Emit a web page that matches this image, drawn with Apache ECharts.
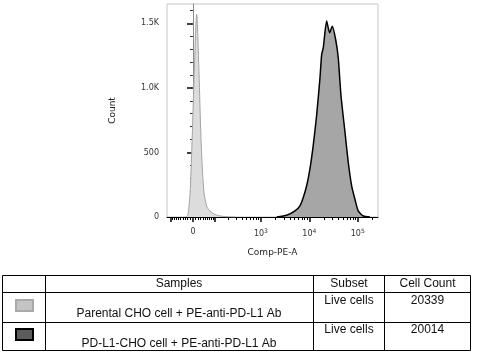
<!DOCTYPE html>
<html>
<head>
<meta charset="utf-8">
<script src="https://cdn.jsdelivr.net/npm/echarts@6/dist/echarts.min.js"></script>
<style>
  html, body { margin: 0; padding: 0; background: #fff; }
  #chart { width: 478px; height: 360px; }
</style>
</head>
<body>
<div id="chart"></div>
<script>
// histogram bins: [Comp-PE-A value, count]
const parentalHist = [
  [-27, 0], [-19, 20], [-15, 86], [-10, 219], [-3, 609], [5, 1127], [14, 1570],
  [23, 1127], [31, 609], [42, 219], [55, 86], [71, 47], [98, 20], [132, 8],
  [191, 2], [286, 0]
]
const pdl1Hist = [
  [2121, 0], [3407, 13], [5058, 47], [6415, 86], [7506, 151], [8820, 242],
  [10317, 373], [12062, 555], [14187, 789], [16605, 1076], [18000, 1258],
  [19420, 1310], [22815, 1518], [26316, 1427], [29800, 1477], [35011, 1375],
  [39650, 1232], [45000, 945], [54480, 659], [63720, 424], [74860, 242],
  [87550, 138], [102400, 47], [130100, 8], [178700, 0]
]

const xMajorTicks = [-100, 0, 100, 1e3, 1e4, 1e5]
const xLabelValues = [0, 1e3, 1e4, 1e5]
const xLabelText = ['0', '10{s|3}', '10{s|4}', '10{s|5}']
const xMinorTicks = [
  -90, -80, -70, -60, -50, -40, -30, -20, -10,
  10, 20, 30, 40, 50, 60, 70, 80, 90,
  200, 300, 400, 500, 600, 700, 800, 900,
  2000, 3000, 4000, 5000, 6000, 7000, 8000, 9000,
  20000, 30000, 40000, 50000, 60000, 70000, 80000, 90000, 200000
]
const yMajorTicks = [0, 500, 1000, 1500]
const yMinorTicks = [100, 200, 300, 400, 600, 700, 800, 900, 1100, 1200, 1300, 1400, 1600]

const samples = ['Parental CHO cell + PE-anti-PD-L1 Ab', 'PD-L1-CHO cell + PE-anti-PD-L1 Ab']
const subsets = ['Live cells', 'Live cells']
const cellCounts = ['20339', '20014']

// biexponential-like display transform (arcsinh)
const C = 79.3
const T = (v) => Math.asinh(v / C) / Math.LN10
const X_MIN = -0.536
const X_MAX = T(262143)

const chart = echarts.init(document.getElementById('chart'))

const axisFont = { fontFamily: 'DejaVu Sans', fontSize: 8, color: '#333' }

const xBase = { type: 'value', min: X_MIN, max: X_MAX, position: 'bottom', splitLine: { show: false } }
const yBase = { type: 'value', min: 0, max: 1650, position: 'left', splitLine: { show: false } }

// table drawing
const tableFont = '12px "Liberation Sans", Arial, sans-serif'
const hLines = [275.5, 292.5, 322.5, 350.5]
const vLines = [2.5, 45.5, 313.5, 384.5, 470.5]
const colMid = [179, 349, 427.5]
const graphics = []
hLines.forEach((y) => graphics.push({
  type: 'line', shape: { x1: vLines[0], y1: y, x2: vLines[vLines.length - 1], y2: y },
  style: { stroke: '#000', lineWidth: 1 }
}))
vLines.forEach((x) => graphics.push({
  type: 'line', shape: { x1: x, y1: hLines[0], x2: x, y2: hLines[hLines.length - 1] },
  style: { stroke: '#000', lineWidth: 1 }
}))
const txt = (text, x, y) => ({
  type: 'text',
  style: { text, x, y, font: tableFont, fill: '#111', align: 'center', verticalAlign: 'middle', textAlign: 'center', textVerticalAlign: 'middle' }
})
graphics.push(txt('Samples', colMid[0], 284), txt('Subset', colMid[1], 284), txt('Cell Count', colMid[2], 284))
const rowTop = [301, 330]
const rowBottom = [314, 344]
const swatches = [
  { fill: '#c4c4c4', stroke: '#a9a9a9', y: 300 },
  { fill: '#5c5c5c', stroke: '#000', y: 329 }
]
samples.forEach((s, i) => {
  graphics.push({
    type: 'rect', shape: { x: 16, y: swatches[i].y, width: 17, height: 11 },
    style: { fill: swatches[i].fill, stroke: swatches[i].stroke, lineWidth: 2 }
  })
  graphics.push(txt(s, colMid[0], rowBottom[i]))
  graphics.push(txt(subsets[i], colMid[1], rowTop[i]))
  graphics.push(txt(cellCounts[i], colMid[2], rowTop[i]))
})

const option = {
  animation: false,
  backgroundColor: '#fff',
  grid: { left: 167, top: 4, width: 211, height: 213, show: true, borderColor: '#c4c4c4', borderWidth: 1 },
  xAxis: [
    {
      ...xBase,
      name: 'Comp-PE-A',
      nameLocation: 'middle',
      nameGap: 31,
      nameTextStyle: { fontFamily: 'DejaVu Sans', fontSize: 9, color: '#222' },
      axisLine: { lineStyle: { color: '#000', width: 1 } },
      axisTick: { customValues: xMajorTicks.map(T), length: 5, lineStyle: { color: '#000', width: 1.5 } },
      axisLabel: {
        ...axisFont,
        margin: 11,
        customValues: xLabelValues.map(T),
        formatter: (v) => {
          let best = 0
          xLabelValues.forEach((lv, i) => {
            if (Math.abs(T(lv) - v) < Math.abs(T(xLabelValues[best]) - v)) best = i
          })
          return xLabelText[best]
        },
        rich: { s: { fontFamily: 'DejaVu Sans', fontSize: 6, color: '#333', verticalAlign: 'top', padding: [0, 0, 6, 0] } }
      }
    },
    {
      ...xBase,
      axisLine: { show: false },
      axisTick: { customValues: xMinorTicks.map(T), length: 3, lineStyle: { color: '#000', width: 1 } },
      axisLabel: { show: false }
    }
  ],
  yAxis: [
    {
      ...yBase,
      name: 'Count',
      nameLocation: 'middle',
      nameGap: 50,
      nameTextStyle: { fontFamily: 'DejaVu Sans', fontSize: 9, color: '#222' },
      axisLine: { show: true, lineStyle: { color: '#8c8c8c', width: 1 } },
      axisTick: { customValues: yMajorTicks, length: 6, lineStyle: { color: '#000', width: 1.5 } },
      axisLabel: {
        ...axisFont,
        margin: 8,
        customValues: yMajorTicks,
        formatter: (v) => (v >= 1000 ? (v / 1000).toFixed(1) + 'K' : String(v))
      }
    },
    {
      ...yBase,
      axisLine: { show: false },
      axisTick: { customValues: yMinorTicks, length: 3, lineStyle: { color: '#333', width: 1 } },
      axisLabel: { show: false }
    }
  ],
  series: [
    {
      name: 'Parental CHO cell + PE-anti-PD-L1 Ab',
      type: 'line',
      data: parentalHist.map(([v, c]) => [T(v), c]),
      smooth: 0.3,
      symbol: 'none',
      lineStyle: { color: '#a3a3a3', width: 1 },
      areaStyle: { color: '#dcdcdc', opacity: 1 },
      z: 2
    },
    {
      name: 'PD-L1-CHO cell + PE-anti-PD-L1 Ab',
      type: 'line',
      data: pdl1Hist.map(([v, c]) => [T(v), c]),
      smooth: 0.2,
      symbol: 'none',
      lineStyle: { color: '#000', width: 1.5 },
      areaStyle: { color: '#a6a6a6', opacity: 1 },
      z: 3
    }
  ],
  graphic: graphics
}

chart.setOption(option)
</script>
</body>
</html>
